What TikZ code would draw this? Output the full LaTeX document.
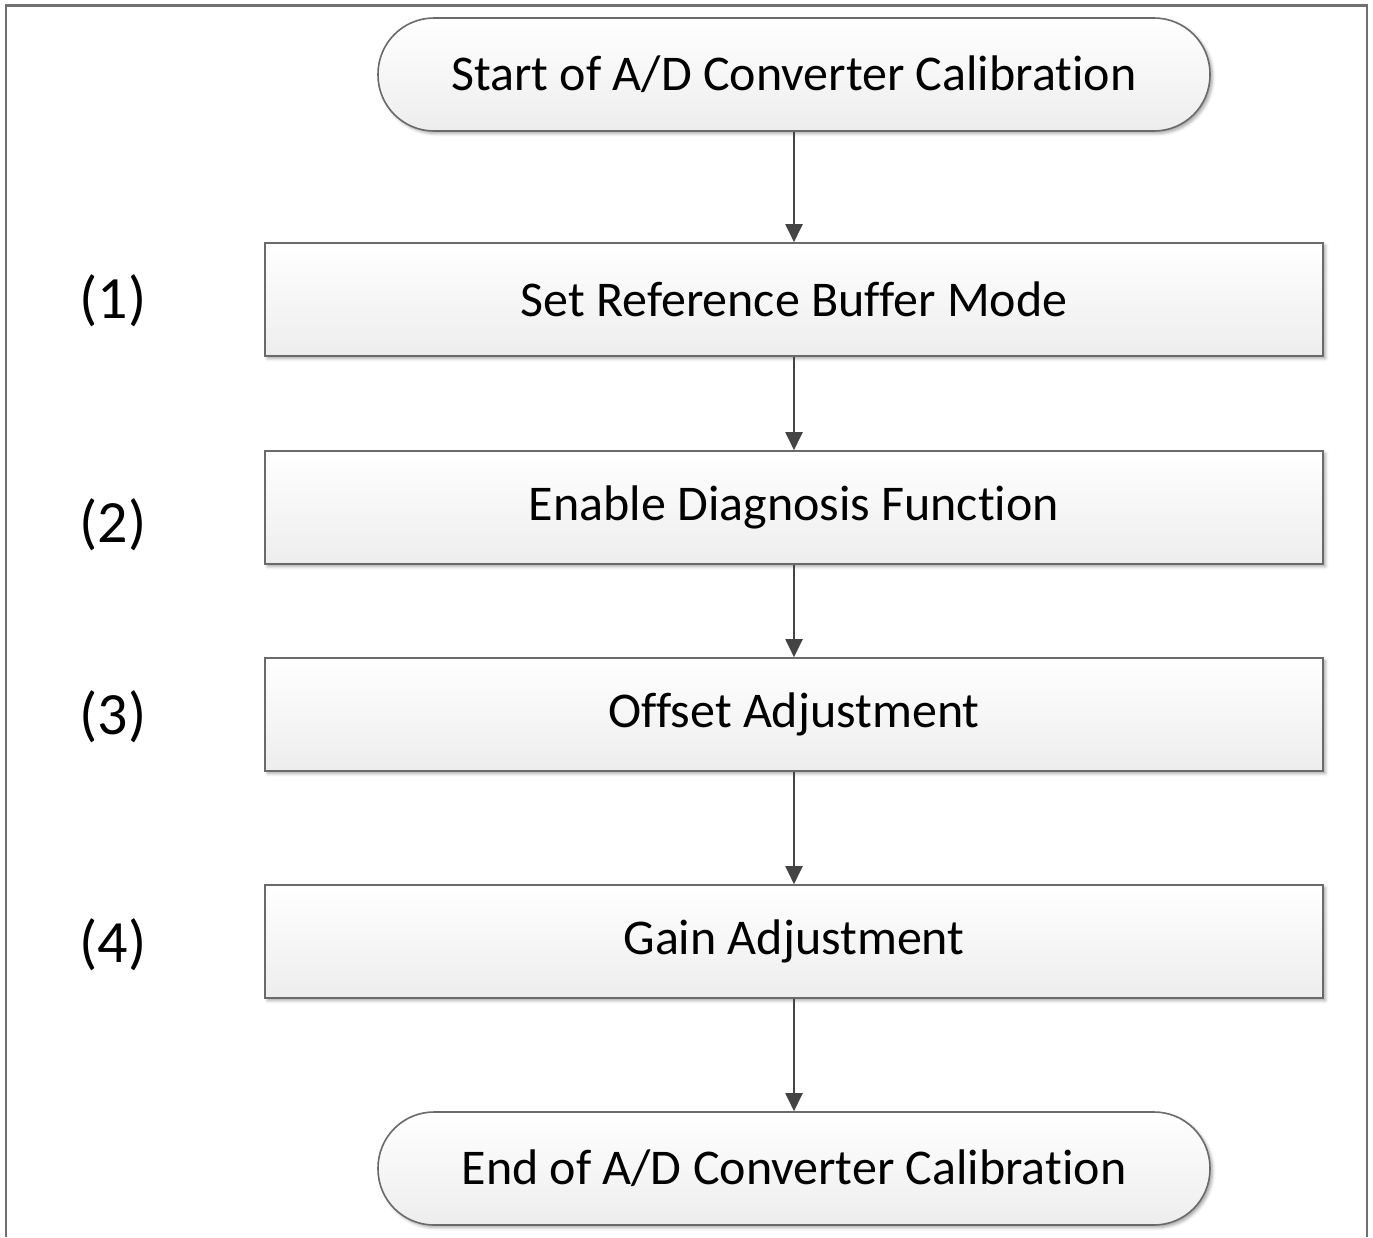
\documentclass[tikz,border=0pt]{standalone}
\usepackage{fontspec}
\setmainfont{Carlito}[Ligatures=NoCommon]
\usetikzlibrary{shadows.blur,arrows.meta}
\definecolor{edgegray}{HTML}{6A6A6A}
\definecolor{fillbottom}{HTML}{EDEDED}
\definecolor{arrowgray}{HTML}{444444}
\definecolor{framegray}{HTML}{707070}
\begin{document}
\begin{tikzpicture}[x=1pt,y=-1pt,
  boxbase/.style={draw=edgegray, line width=1.6pt, top color=white, bottom color=fillbottom,
    inner sep=0pt, font=\fontsize{50}{60}\selectfont,
    blur shadow={shadow xshift=2.5pt, shadow yshift=-2.5pt, shadow blur radius=3pt, shadow opacity=35}},
  procbox/.style={boxbase, rectangle, minimum width=1058pt, minimum height=113pt},
  termbox/.style={boxbase, rectangle, rounded corners=56pt, minimum width=832pt, minimum height=113pt},
  steplabel/.style={font=\fontsize{60}{70}\selectfont, inner sep=0pt},
  flow/.style={draw=arrowgray, line width=2pt, -{Triangle[length=18pt,width=17pt]}}]
\useasboundingbox (0,0) rectangle (1373,1237);
% outer frame (open at the bottom edge)
\draw[framegray, line width=2.6pt] (6,1237) -- (6,5.5) -- (1367,5.5) -- (1367,1237);

% flow steps
\node[termbox] (start) at (794,74.5) {Start of A/D Converter Calibration};
\node[procbox] (s1) at (794,299.5) {Set Reference Buffer Mode};
\node[procbox] (s2) at (794,507.5) {Enable Diagnosis Function};
\node[procbox] (s3) at (794,714.5) {Offset Adjustment};
\node[procbox] (s4) at (794,941.5) {Gain Adjustment};
\node[termbox] (finish) at (794,1168.5) {End of A/D Converter Calibration};

% step numbers
\node[steplabel] (l1) at (113,301) {(1)};
\node[steplabel] (l2) at (113,525) {(2)};
\node[steplabel] (l3) at (113,717) {(3)};
\node[steplabel] (l4) at (113,945) {(4)};

% connectors
\draw[flow] (start) -- (s1);
\draw[flow] (s1) -- (s2);
\draw[flow] (s2) -- (s3);
\draw[flow] (s3) -- (s4);
\draw[flow] (s4) -- (finish);
\end{tikzpicture}
\end{document}
